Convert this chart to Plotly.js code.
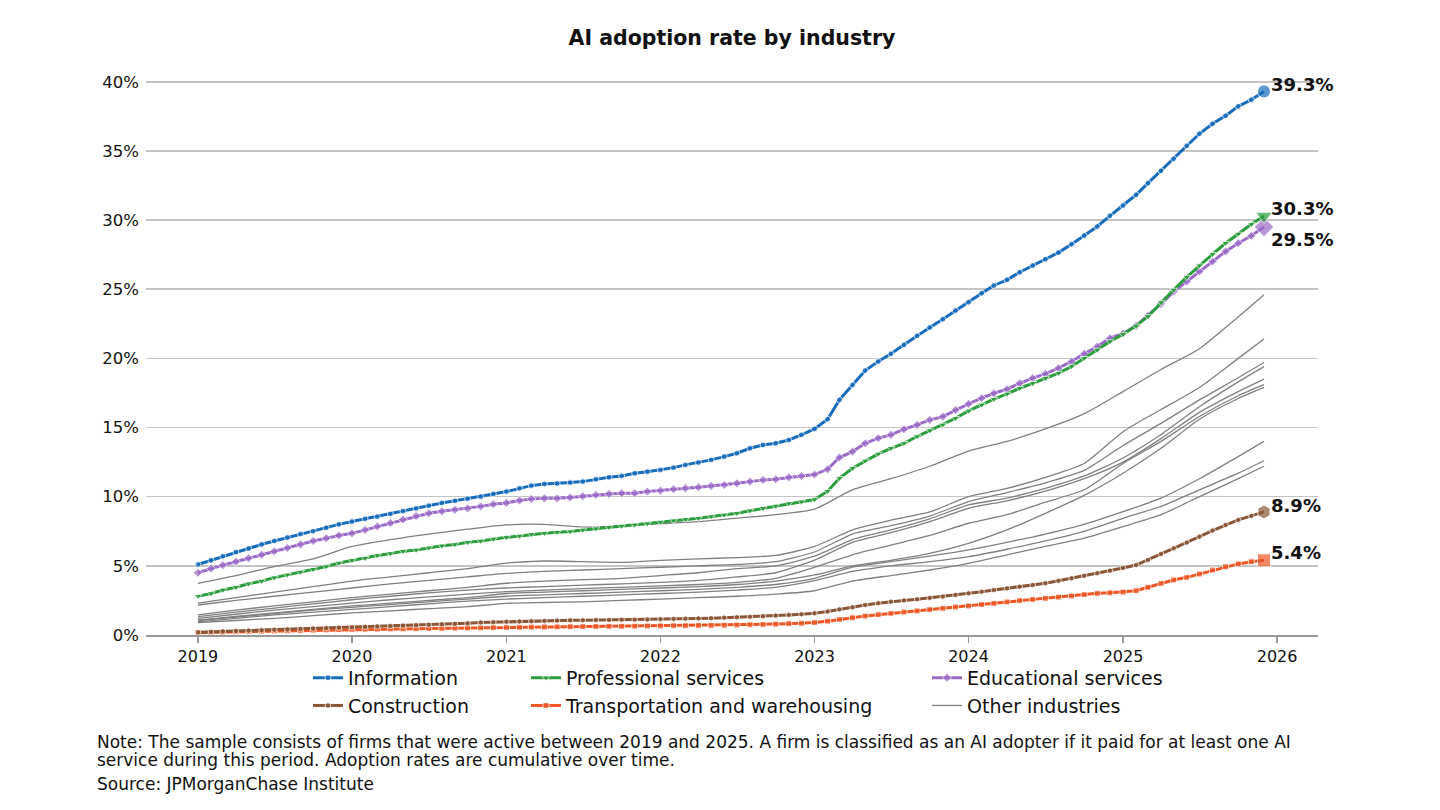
<!DOCTYPE html>
<html>
<head>
<meta charset="utf-8">
<script src="https://cdn.plot.ly/plotly-3.0.1.min.js"></script>
<style>
  html, body { margin: 0; padding: 0; background: #fff; }
  #chart { width: 1440px; height: 810px; }
</style>
</head>
<body>
<div id="chart"></div>
<script>
// ---------- DATA (monthly, Jan 2019 – Dec 2025, % of firms) ----------
const information = [
  5.1, 5.4, 5.7, 6.0, 6.25, 6.55, 6.8, 7.05, 7.3, 7.5, 7.75, 8.0,
  8.2, 8.4, 8.55, 8.75, 8.95, 9.15, 9.35, 9.55, 9.7, 9.85, 10.0, 10.2,
  10.37, 10.61, 10.8, 10.92, 10.95, 11.02, 11.09, 11.26, 11.4, 11.5, 11.69, 11.81,
  11.93, 12.1, 12.3, 12.47, 12.66, 12.9, 13.14, 13.5, 13.74, 13.86, 14.1, 14.47,
  14.9, 15.6, 17.0, 18.08, 19.12, 19.77, 20.33, 20.98, 21.63, 22.23, 22.83, 23.46,
  24.06, 24.71, 25.27, 25.68, 26.23, 26.71, 27.17, 27.65, 28.26, 28.88, 29.54, 30.31,
  31.05, 31.83, 32.67, 33.56, 34.43, 35.37, 36.24, 36.96, 37.54, 38.22, 38.7, 39.3
];
const professional = [
  2.8, 3.0, 3.25, 3.45, 3.7, 3.9, 4.15, 4.35, 4.55, 4.75, 4.95, 5.2,
  5.4, 5.55, 5.75, 5.9, 6.05, 6.15, 6.3, 6.45, 6.55, 6.7, 6.8, 6.95,
  7.06, 7.16, 7.28, 7.36, 7.43, 7.48, 7.6, 7.69, 7.79, 7.88, 7.96, 8.05,
  8.17, 8.27, 8.36, 8.44, 8.56, 8.68, 8.8, 8.99, 9.16, 9.33, 9.52, 9.64,
  9.8, 10.4, 11.33, 12.06, 12.59, 13.09, 13.5, 13.86, 14.35, 14.78, 15.19, 15.67,
  16.2, 16.64, 17.05, 17.43, 17.84, 18.2, 18.57, 18.93, 19.41, 20.01, 20.61, 21.22,
  21.75, 22.35, 23.03, 24.04, 24.95, 25.87, 26.71, 27.53, 28.33, 29.0, 29.7, 30.3
];
const educational = [
  4.5, 4.8, 5.05, 5.3, 5.55, 5.8, 6.05, 6.3, 6.55, 6.8, 7.0, 7.2,
  7.35, 7.6, 7.85, 8.1, 8.35, 8.6, 8.8, 8.95, 9.05, 9.15, 9.3, 9.45,
  9.55, 9.72, 9.84, 9.88, 9.88, 9.95, 10.04, 10.13, 10.2, 10.25, 10.25, 10.37,
  10.44, 10.54, 10.61, 10.68, 10.78, 10.85, 10.97, 11.09, 11.21, 11.26, 11.4, 11.5,
  11.6, 11.98, 12.83, 13.26, 13.86, 14.23, 14.47, 14.88, 15.19, 15.55, 15.79, 16.27,
  16.71, 17.12, 17.48, 17.77, 18.2, 18.57, 18.88, 19.29, 19.77, 20.33, 20.86, 21.46,
  21.8, 22.35, 23.08, 23.94, 24.83, 25.56, 26.28, 27.0, 27.73, 28.33, 28.86, 29.5
];
const construction = [
  0.2, 0.23, 0.26, 0.29, 0.32, 0.35, 0.38, 0.41, 0.44, 0.47, 0.5, 0.53,
  0.56, 0.59, 0.62, 0.65, 0.68, 0.71, 0.74, 0.77, 0.8, 0.85, 0.9, 0.93,
  0.96, 0.98, 1.0, 1.02, 1.04, 1.06, 1.07, 1.08, 1.09, 1.1, 1.11, 1.12,
  1.14, 1.16, 1.18, 1.2, 1.22, 1.25, 1.28, 1.31, 1.35, 1.4, 1.45, 1.5,
  1.57, 1.7, 1.86, 2.0, 2.17, 2.3, 2.41, 2.5, 2.58, 2.68, 2.77, 2.89,
  3.01, 3.13, 3.25, 3.37, 3.49, 3.61, 3.74, 3.92, 4.1, 4.28, 4.46, 4.65,
  4.85, 5.06, 5.42, 5.86, 6.27, 6.68, 7.11, 7.55, 7.96, 8.32, 8.61, 8.9
];
const transportation = [
  0.17, 0.19, 0.21, 0.23, 0.25, 0.27, 0.29, 0.31, 0.33, 0.35, 0.37, 0.39,
  0.41, 0.42, 0.43, 0.44, 0.45, 0.46, 0.47, 0.48, 0.5, 0.51, 0.52, 0.54,
  0.55, 0.56, 0.57, 0.58, 0.59, 0.6, 0.61, 0.62, 0.63, 0.63, 0.64, 0.65,
  0.66, 0.67, 0.67, 0.68, 0.69, 0.7, 0.72, 0.74, 0.76, 0.79, 0.82, 0.85,
  0.9, 1.0, 1.13, 1.25, 1.37, 1.47, 1.57, 1.66, 1.74, 1.84, 1.93, 2.02,
  2.1, 2.2, 2.29, 2.39, 2.48, 2.57, 2.65, 2.74, 2.82, 2.92, 3.01, 3.05,
  3.1, 3.2, 3.45, 3.74, 3.98, 4.17, 4.41, 4.7, 4.94, 5.14, 5.3, 5.4
];

// Other industries: read quarterly (Jan/Apr/Jul/Oct 2019–Oct 2025, then Dec 2025)
const other1  = [3.74, 4.3, 4.95, 5.5, 6.4, 6.9, 7.3, 7.65, 7.96, 8.0, 7.8, 7.9, 8.05, 8.2, 8.45, 8.7, 9.1, 10.5, 11.3, 12.2, 13.3, 14.0, 14.9, 16.0, 17.6, 19.2, 20.7, 23.0, 24.6];
const other2  = [2.3, 2.7, 3.1, 3.5, 3.9, 4.2, 4.5, 4.8, 5.2, 5.35, 5.3, 5.25, 5.4, 5.5, 5.6, 5.75, 6.4, 7.6, 8.3, 8.9, 10.0, 10.6, 11.4, 12.4, 14.7, 16.3, 17.9, 20.0, 21.4];
const other3  = [2.17, 2.5, 2.8, 3.1, 3.4, 3.7, 3.95, 4.2, 4.45, 4.6, 4.7, 4.8, 4.9, 5.0, 5.1, 5.3, 6.0, 7.3, 7.9, 8.6, 9.64, 10.3, 11.0, 11.9, 13.7, 15.3, 17.0, 18.6, 19.7];
const other4  = [1.45, 1.8, 2.1, 2.4, 2.7, 2.95, 3.2, 3.45, 3.74, 3.9, 4.0, 4.1, 4.3, 4.5, 4.8, 5.0, 5.7, 6.9, 7.6, 8.4, 9.4, 9.9, 10.6, 11.5, 12.8, 14.5, 16.5, 18.3, 19.4];
const other5  = [1.33, 1.65, 1.95, 2.25, 2.55, 2.8, 3.05, 3.25, 3.4, 3.5, 3.6, 3.7, 3.8, 3.95, 4.2, 4.5, 5.42, 6.7, 7.4, 8.2, 9.16, 9.7, 10.4, 11.3, 12.5, 14.2, 16.1, 17.6, 18.5];
const other6  = [1.2, 1.5, 1.8, 2.05, 2.3, 2.55, 2.75, 2.95, 3.13, 3.25, 3.35, 3.45, 3.55, 3.65, 3.8, 4.1, 4.9, 5.8, 6.5, 7.2, 8.08, 8.7, 9.6, 10.5, 12.4, 14.0, 15.8, 17.3, 18.1];
const other7  = [1.08, 1.35, 1.6, 1.85, 2.1, 2.3, 2.5, 2.7, 3.0, 3.1, 3.2, 3.3, 3.4, 3.5, 3.65, 3.9, 4.34, 5.0, 5.4, 5.9, 6.63, 7.6, 8.8, 10.1, 11.7, 13.5, 15.6, 17.1, 17.9];
const other8  = [1.05, 1.3, 1.55, 1.8, 2.0, 2.2, 2.4, 2.6, 2.8, 2.9, 3.0, 3.1, 3.2, 3.3, 3.45, 3.65, 4.1, 4.9, 5.3, 5.7, 6.15, 6.7, 7.3, 8.0, 8.92, 9.9, 11.3, 12.9, 14.0];
const other9  = [0.95, 1.2, 1.45, 1.65, 1.85, 2.05, 2.25, 2.45, 2.6, 2.7, 2.8, 2.9, 3.0, 3.1, 3.25, 3.45, 3.93, 4.6, 5.0, 5.3, 5.66, 6.2, 6.8, 7.5, 8.44, 9.3, 10.5, 11.7, 12.6];
const other10 = [0.89, 1.05, 1.2, 1.4, 1.6, 1.75, 1.9, 2.05, 2.29, 2.35, 2.4, 2.5, 2.6, 2.7, 2.8, 2.95, 3.2, 3.9, 4.3, 4.7, 5.18, 5.8, 6.4, 7.0, 7.84, 8.7, 10.0, 11.3, 12.2];
const otherSeries = [other1, other2, other3, other4, other5, other6, other7, other8, other9, other10];

const seriesNames = ["Information", "Professional services", "Educational services", "Construction", "Transportation and warehousing", "Other industries"];
const yearTicks = ["2019", "2020", "2021", "2022", "2023", "2024", "2025", "2026"];

// ---------- date axes ----------
const pad = n => (n < 10 ? "0" + n : "" + n);
const months = [];
for (let y = 2019; y <= 2025; y++) for (let m = 1; m <= 12; m++) months.push(y + "-" + pad(m) + "-01");
const quarters = [];
for (let y = 2019; y <= 2025; y++) for (let m = 1; m <= 10; m += 3) quarters.push(y + "-" + pad(m) + "-01");
quarters.push("2025-12-01");

// ---------- styles ----------
const FONT = "'DejaVu Sans', Verdana, sans-serif";
const styles = [
  { data: information,    name: seriesNames[0], color: "#176cbd", sym: "circle",        s: 6, end: 13, legend: "legend",  dy: 7 },
  { data: professional,   name: seriesNames[1], color: "#2b9d3c", sym: "triangle-down", s: 7, end: 15, legend: "legend2", dy: 7 },
  { data: educational,    name: seriesNames[2], color: "#9b6ac8", sym: "diamond",       s: 7, end: 15, legend: "legend3", dy: -13 },
  { data: construction,   name: seriesNames[3], color: "#8b5636", sym: "hexagon",       s: 6, end: 14, legend: "legend",  dy: 6 },
  { data: transportation, name: seriesNames[4], color: "#f05524", sym: "square",        s: 6, end: 13, legend: "legend2", dy: 8 }
];

const traces = [];
// gray lines first (drawn underneath)
otherSeries.forEach((arr, i) => {
  traces.push({
    type: "scatter", mode: "lines", x: quarters, y: arr,
    name: seriesNames[5], legend: "legend3", showlegend: i === 0,
    line: { color: "#808080", width: 1.3, shape: "spline", smoothing: 0.6 },
    hoverinfo: "skip"
  });
});
// highlighted series, top series last
[4, 3, 2, 1, 0].forEach(k => {
  const st = styles[k];
  const n = st.data.length;
  traces.push({
    type: "scatter", mode: "lines+markers", x: months, y: st.data,
    name: st.name, legend: st.legend,
    line: { color: st.color, width: 3 },
    marker: {
      color: st.color,
      symbol: st.data.map(() => st.sym),
      size: st.data.map((v, i) => (i === n - 1 ? st.end : st.s))
    },
    hoverinfo: "skip"
  });
});
const rank = { "Information": 1, "Construction": 2, "Professional services": 1, "Transportation and warehousing": 2, "Educational services": 1, "Other industries": 2 };
traces.forEach(t => { t.legendrank = rank[t.name]; });

const annotations = styles.map(st => {
  const n = st.data.length;
  return {
    x: months[n - 1], y: st.data[n - 1], xref: "x", yref: "y",
    text: st.data[n - 1].toFixed(1) + "%", showarrow: false,
    xanchor: "left", yanchor: "middle", xshift: 5, yshift: st.dy,
    font: { family: FONT, size: 18, color: "#111", weight: 700 }
  };
});
const noteFont = { family: FONT, size: 17, color: "#111" };
annotations.push(
  { xref: "paper", yref: "paper", x: -0.0435, y: -0.1925, xanchor: "left", yanchor: "middle", showarrow: false, align: "left",
    text: "Note: The sample consists of firms that were active between 2019 and 2025. A firm is classified as an AI adopter if it paid for at least one AI", font: noteFont },
  { xref: "paper", yref: "paper", x: -0.0435, y: -0.2248, xanchor: "left", yanchor: "middle", showarrow: false, align: "left",
    text: "service during this period. Adoption rates are cumulative over time.", font: noteFont },
  { xref: "paper", yref: "paper", x: -0.0435, y: -0.268, xanchor: "left", yanchor: "middle", showarrow: false, align: "left",
    text: "Source: JPMorganChase Institute", font: noteFont }
);

const legendBase = {
  orientation: "v", yanchor: "top", xanchor: "left", y: -0.043,
  font: { family: FONT, size: 19, color: "#111" },
  bgcolor: "rgba(0,0,0,0)", borderwidth: 0, tracegroupgap: 0, traceorder: "normal"
};

const layout = {
  width: 1440, height: 810,
  paper_bgcolor: "#fff", plot_bgcolor: "#fff",
  margin: { l: 146, r: 122, t: 79, b: 175 },
  font: { family: FONT, color: "#111" },
  title: { text: "AI adoption rate by industry", x: 0.5083, xanchor: "center", y: 0.953, yanchor: "middle",
           font: { family: FONT, size: 20.5, color: "#111", weight: 700 } },
  xaxis: {
    type: "date", range: ["2018-08-31", "2026-04-08"],
    tickvals: yearTicks.map(y => y + "-01-01"), ticktext: yearTicks,
    showgrid: false, zeroline: false,
    showline: true, linecolor: "#9a9a9a", linewidth: 1.5,
    ticks: "outside", ticklen: 6, tickcolor: "#9a9a9a", tickwidth: 1.2,
    tickfont: { family: FONT, size: 16, color: "#111" }
  },
  yaxis: {
    range: [0, 40.2], tickvals: [0, 5, 10, 15, 20, 25, 30, 35, 40],
    ticktext: ["0%", "5%", "10%", "15%", "20%", "25%", "30%", "35%", "40%"],
    showgrid: true, gridcolor: "#c4c4c4", gridwidth: 1.5, zeroline: false,
    showline: false, ticks: "", ticklabelstandoff: 6,
    tickfont: { family: FONT, size: 16.5, color: "#111" }
  },
  legend:  Object.assign({}, legendBase, { x: 0.1382 }),
  legend2: Object.assign({}, legendBase, { x: 0.3242 }),
  legend3: Object.assign({}, legendBase, { x: 0.6664 }),
  annotations: annotations,
  hovermode: false
};

Plotly.newPlot("chart", traces, layout, { staticPlot: true, displayModeBar: false });
</script>
</body>
</html>
